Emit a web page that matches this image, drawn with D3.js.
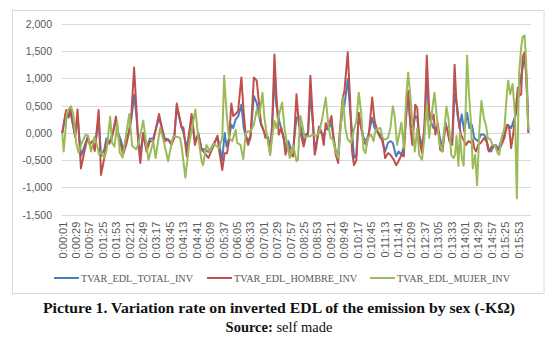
<!DOCTYPE html>
<html>
<head>
<meta charset="utf-8">
<title>TVAR EDL by sex</title>
<script src="https://d3js.org/d3.v7.min.js"></script>
<style>
  body { margin: 0; background: #fff; }
  svg { display: block; }
  .axis text { font: 10.5px "Liberation Sans", Arial, sans-serif; fill: #595959; }
  .axis.time text { font-size: 11px; }
  .legend text { font: 10.2px "Liberation Serif", "Times New Roman", serif; fill: #595959; }
  .caption { font-family: "Liberation Serif", "Times New Roman", serif; fill: #111; }
</style>
</head>
<body>
<svg id="chart" width="559" height="338"></svg>
<script>
// elapsed seconds of each vertex, and the variation rate at that moment
const totalTime = [
  1,9,14,18,28,33,40,45,54,59,
  64,69,77,82,89,93,99,105,113,118,
  124,128,135,141,145,151,156,160,164,170,
  177,184,191,203,215,222,229,235,240,250,
  254,261,271,278,285,292,299,306,316,325,
  328,335,340,344,349,354,358,363,368,375,
  380,384,389,394,401,407,412,416,425,430,
  435,439,444,448,454,458,464,467,473,478,
  483,490,495,500,505,509,514,519,523,528,
  531,537,542,547,551,556,563,567,572,577,
  581,586,590,597,602,606,610,615,620,625,
  630,636,641,648,653,665,675,681,686,691,
  698,703,709,714,719,723,728,732,738,742,
  746,752,757,762,767,776,785,794,801,809,
  815,820,825,830,835,840,846,851,856,861,
  869,875,881,886,890,896,901,906,911,917,
  924,931,938,943,948,953,957,962,967,971,
  974
];
const totalValue = [
  0,0.38,0.28,0.38,-0.05,0.3,-0.42,-0.3,-0.08,-0.2,
  -0.15,-0.3,0.28,-0.42,-0.3,-0.1,-0.18,-0.05,0.22,0,
  -0.15,-0.3,-0.15,0.05,0.25,0.7,0.3,-0.15,-0.38,0,
  -0.28,-0.1,-0.1,0.28,-0.1,-0.12,-0.18,-0.05,0.46,0.12,
  0,-0.28,0.3,-0.15,-0.02,-0.3,-0.3,-0.35,-0.22,-0.08,
  -0.18,-0.5,0,-0.25,-0.1,0.15,0.09,0.25,0.3,0.52,
  0.09,-0.05,-0.15,-0.05,0.68,0.55,0.31,0.15,-0.03,-0.06,
  -0.28,0.12,1.02,0.5,0.22,0.09,-0.09,-0.28,-0.15,-0.28,
  -0.3,0.28,0.3,0.06,-0.15,-0.03,0,0.71,0.3,-0.28,
  -0.2,0.03,0,-0.05,0.09,0.06,0.18,-0.06,-0.34,-0.4,
  0.06,0.4,0.5,0.99,0.4,0.03,-0.46,-0.4,0.34,0.12,
  -0.09,-0.15,0,0.28,0.09,-0.03,-0.34,-0.18,-0.15,-0.18,
  -0.43,-0.34,-0.4,-0.25,0.3,0.74,0.15,0.09,0.31,0.28,
  -0.03,-0.25,0.06,1.02,0.28,0.09,0.09,-0.28,0.19,-0.09,
  -0.18,0.71,0.52,0.09,0.34,0.03,0.37,0.09,0.15,-0.09,
  -0.15,-0.03,-0.03,-0.09,-0.31,-0.34,-0.25,-0.22,-0.31,-0.15,
  -0.03,0.15,0.09,0.22,0.34,0.71,0.96,1.2,1.4,0.96,
  0.03
];

const hombreTime = [
  1,9,14,18,28,33,40,47,54,58,
  64,69,77,82,89,93,99,105,113,118,
  124,128,135,141,145,151,156,160,164,170,
  177,184,191,203,215,222,229,235,240,250,
  254,261,271,278,285,292,299,306,316,325,
  328,335,340,345,349,354,358,363,368,375,
  380,384,389,394,401,407,412,416,422,425,
  430,435,439,444,448,453,458,464,467,472,
  478,483,490,495,500,505,509,514,519,523,
  528,531,537,542,547,551,556,563,567,572,
  577,581,586,590,597,602,606,610,615,620,
  625,630,636,641,648,653,660,665,670,675,
  681,686,693,698,703,709,714,719,723,728,
  732,738,742,746,752,757,762,767,771,776,
  780,785,790,795,801,804,809,815,820,823,
  826,830,833,840,844,849,854,858,861,865,
  869,875,882,888,892,897,903,909,913,918,
  924,929,934,938,943,948,952,955,959,962,
  966,969,972,974
];
const hombreValue = [
  0,0.42,0.3,0.46,-0.07,0.43,-0.65,-0.35,-0.08,-0.2,
  -0.15,-0.33,0.42,-0.77,-0.45,-0.15,-0.2,-0.08,0.3,-0.05,
  -0.23,-0.4,-0.2,0.05,0.3,1.2,0.42,-0.23,-0.55,0,
  -0.34,-0.15,-0.15,0.35,-0.15,-0.12,-0.22,-0.09,0.54,0.1,
  0.1,-0.43,0.35,-0.22,0,-0.31,-0.37,-0.46,-0.25,-0.05,
  -0.28,-0.68,-0.37,-0.37,-0.15,0.54,0.31,0.35,0.4,1.02,
  0.34,-0.03,-0.22,-0.09,1.02,0.96,0.52,0.18,0.03,-0.09,
  -0.09,-0.4,0.09,1.44,0.71,-0.03,0.09,-0.15,-0.4,-0.22,
  -0.4,-0.43,0.71,0.15,-0.06,-0.25,-0.09,-0.03,1.05,0.43,
  -0.4,-0.28,0.12,0.03,-0.22,0.18,0.09,0.31,-0.09,-0.4,
  -0.55,0.09,0.62,0.77,1.48,0.59,-0.34,-0.59,-0.5,0.37,
  0.09,-0.15,-0.22,-0.03,0.65,0.22,0,-0.09,-0.12,-0.46,
  -0.37,-0.4,-0.49,-0.59,-0.52,-0.4,-0.43,0.4,0.77,0.09,
  -0.22,0.52,0.46,-0.09,-0.37,0.09,1.42,0.4,0.22,0.34,
  -0.03,0.18,-0.31,-0.34,0.15,0.09,-0.15,-0.22,1.25,0.71,
  0.34,0.15,-0.03,-0.15,-0.22,-0.15,-0.18,-0.12,-0.28,-0.34,
  -0.22,-0.18,-0.09,-0.18,-0.34,-0.25,-0.22,-0.28,-0.31,-0.22,
  -0.09,0.15,0.09,-0.28,0.03,0.46,0.83,0.68,0.71,1.39,
  1.48,1.08,0.52,0
];

const mujerTime = [
  1,4,11,19,24,30,35,41,50,55,
  61,68,73,78,82,89,94,101,105,110,
  116,121,127,134,141,147,155,160,170,181,
  191,196,205,212,219,222,229,233,247,251,
  258,266,279,285,292,295,302,309,316,325,
  328,335,339,344,349,356,363,366,373,379,
  384,389,394,401,407,412,419,423,429,435,
  439,444,448,453,460,465,472,476,483,490,
  493,498,502,507,512,519,524,530,537,544,
  551,556,561,566,572,577,581,587,592,597,
  604,609,615,620,625,630,634,639,646,651,
  655,665,670,675,681,686,691,695,700,703,
  709,714,719,723,728,732,737,742,746,752,
  757,762,767,773,778,783,788,794,799,803,
  807,813,818,821,824,828,831,835,839,843,
  846,850,854,858,863,867,872,876,881,886,
  889,895,899,904,910,913,918,924,929,932,
  936,941,946,950,953,955,959,962,966,969,
  972,974
];
const mujerValue = [
  0,-0.34,0.39,0.49,0.35,-0.18,-0.36,-0.2,-0.03,-0.05,
  -0.34,-0.08,-0.2,-0.4,-0.35,-0.46,-0.3,0.3,-0.18,-0.25,
  0.2,-0.36,-0.45,-0.05,0.35,-0.24,-0.3,-0.2,0.23,-0.5,
  -0.15,-0.46,0.09,-0.12,-0.4,-0.52,-0.2,-0.05,-0.09,-0.3,
  -0.82,-0.2,0.43,-0.09,-0.52,-0.59,-0.22,-0.34,-0.2,-0.25,
  -0.28,-0.09,1.05,0.37,-0.09,-0.15,0.06,-0.18,-0.22,-0.48,
  0,0.03,0.03,0.15,0.43,0.28,0.74,0.28,-0.09,-0.39,
  -0.09,0.22,0.09,0.31,0.56,0.09,-0.28,-0.46,-0.22,-0.52,
  -0.49,0.31,0.15,-0.09,-0.06,-0.06,-0.03,-0.06,0,0.28,
  0.65,0.19,-0.09,-0.12,-0.34,-0.46,-0.03,0.65,0.09,-0.12,
  -0.18,0.03,0.22,0.74,0.37,-0.31,-0.37,-0.09,-0.03,-0.15,
  0.06,0.09,-0.09,-0.12,-0.09,0.09,0.49,0.31,-0.22,-0.09,
  0.19,-0.28,0.65,1.11,0.65,0.15,-0.34,0.09,-0.4,-0.49,
  -0.09,0.52,-0.09,0.4,0.74,0.28,-0.18,-0.34,0.09,0.48,
  0.28,-0.4,-0.46,-0.4,-0.05,-0.6,0,-0.45,-0.6,0.4,
  1.42,0.71,0.22,-0.65,-0.4,-0.96,0.09,0.59,0.28,0.12,
  -0.09,-0.12,-0.22,-0.22,-0.37,-0.4,-0.09,0.09,0.71,0.96,
  0.71,0.9,0.34,-1.2,0.4,1.14,1.57,1.76,1.79,1.39,
  0.46,0.05
];

const timeLabels = [
  "0:00:01","0:00:29","0:00:57","0:01:25","0:01:53","0:02:21","0:02:49",
  "0:03:17","0:03:45","0:04:13","0:04:41","0:05:09","0:05:37","0:06:05",
  "0:06:33","0:07:01","0:07:29","0:07:57","0:08:25","0:08:53","0:09:21",
  "0:09:49","0:10:17","0:10:45","0:11:13","0:11:41","0:12:09","0:12:37",
  "0:13:05","0:13:33","0:14:01","0:14:29","0:14:57","0:15:25","0:15:53"
];
const yTicks = [-1.5, -1, -0.5, 0, 0.5, 1, 1.5, 2];

const seriesNames = ["TVAR_EDL_TOTAL_INV", "TVAR_EDL_HOMBRE_INV", "TVAR_EDL_MUJER_INV"];
const seriesColors = ["#4a7ebb", "#c0504d", "#9bbb59"];

const svg = d3.select("#chart");

// outer chart frame
svg.append("rect")
  .attr("x", 12.5).attr("y", 10.5)
  .attr("width", 531.5).attr("height", 283)
  .attr("fill", "#fff")
  .attr("stroke", "#d9d9d9");

const plot = { left: 62, right: 531, top: 24, bottom: 214.7 };

const x = d3.scaleLinear().domain([0.5, 979.5]).range([plot.left, plot.right]);
const y = d3.scaleLinear().domain([-1.5, 2]).range([plot.bottom, plot.top]);

const toSeconds = s => {
  const [h, m, sec] = s.split(":").map(Number);
  return h * 3600 + m * 60 + sec;
};
const fmtY = v => (v < 0 ? "-" : "") + Math.abs(v).toFixed(3).replace(".", ",");

// horizontal gridlines
svg.append("g")
  .selectAll("line")
  .data(yTicks)
  .join("line")
  .attr("x1", plot.left).attr("x2", plot.right)
  .attr("y1", d => Math.round(y(d)) + 0.5)
  .attr("y2", d => Math.round(y(d)) + 0.5)
  .attr("stroke", "#d9d9d9")
  .attr("stroke-width", 1);

const yAxis = svg.append("g")
  .attr("class", "axis")
  .attr("transform", `translate(${plot.left},0)`)
  .call(d3.axisLeft(y).tickValues(yTicks).tickFormat(fmtY).tickSize(0).tickPadding(10));
yAxis.select(".domain").remove();

const xAxis = svg.append("g")
  .attr("class", "axis time")
  .attr("transform", `translate(0,${plot.bottom})`)
  .call(d3.axisBottom(x)
    .tickValues(timeLabels.map(toSeconds))
    .tickFormat((d, i) => timeLabels[i])
    .tickSize(0));
xAxis.select(".domain").remove();
xAxis.selectAll("text")
  .attr("text-anchor", "end")
  .attr("transform", "rotate(-90)")
  .attr("x", -7)
  .attr("y", 0)
  .attr("dy", "0.35em");

const series = [
  { time: totalTime, value: totalValue },
  { time: hombreTime, value: hombreValue },
  { time: mujerTime, value: mujerValue }
];

const line = d3.line()
  .x(d => x(d[0]))
  .y(d => y(d[1]));

svg.append("g")
  .selectAll("path")
  .data(series)
  .join("path")
  .attr("fill", "none")
  .attr("stroke", (d, i) => seriesColors[i])
  .attr("stroke-width", 2)
  .attr("stroke-linejoin", "round")
  .attr("d", d => line(d3.zip(d.time, d.value)));

// legend
const legendX = [54, 207, 370];
const legend = svg.append("g")
  .attr("class", "legend")
  .selectAll("g")
  .data(seriesNames)
  .join("g")
  .attr("transform", (d, i) => `translate(${legendX[i]},278)`);
legend.append("line")
  .attr("x1", 0).attr("x2", 25)
  .attr("stroke", (d, i) => seriesColors[i])
  .attr("stroke-width", 2);
legend.append("text")
  .attr("x", 27)
  .attr("dy", "0.35em")
  .text(d => d);

// caption under the chart
svg.append("text")
  .attr("class", "caption")
  .attr("x", 279).attr("y", 313)
  .attr("text-anchor", "middle")
  .attr("font-size", 14.5)
  .attr("font-weight", "bold")
  .attr("textLength", 472)
  .attr("lengthAdjust", "spacingAndGlyphs")
  .text("Picture 1. Variation rate on inverted EDL of the emission by sex (-KΩ)");

const source = svg.append("text")
  .attr("class", "caption")
  .attr("x", 279).attr("y", 332)
  .attr("text-anchor", "middle")
  .attr("font-size", 14.5);
source.append("tspan").attr("font-weight", "bold").text("Source:");
source.append("tspan").text(" self made");
</script>
</body>
</html>
